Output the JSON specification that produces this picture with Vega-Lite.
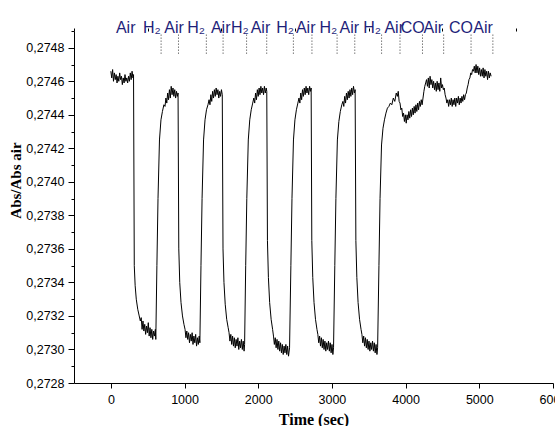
{
  "$schema": "https://vega.github.io/schema/vega-lite/v6.json",
  "width": 479,
  "height": 352,
  "autosize": {"type": "none"},
  "padding": {"left": 74, "top": 31, "right": 2, "bottom": 43},
  "background": "white",
  "config": {
    "view": {"stroke": null},
    "locale": {"number": {"decimal": ",", "thousands": ".", "grouping": [3], "currency": ["", ""]}},
    "axis": {
      "grid": false,
      "domainColor": "black",
      "tickColor": "black",
      "labelColor": "black",
      "titleColor": "black",
      "labelFont": "Liberation Sans",
      "labelFontSize": 12.5,
      "titleFont": "Liberation Serif",
      "titleFontWeight": "bold",
      "domainWidth": 1,
      "tickWidth": 1
    }
  },
  "datasets": {
    "curve": [
      {"t":0,"v":0.27466},{"t":12,"v":0.27462},{"t":24,"v":0.27467},{"t":36,"v":0.2746},{"t":48,"v":0.27465},{"t":60,"v":0.27461},{"t":72,"v":0.27464},{"t":84,"v":0.27459},{"t":96,"v":0.27463},{"t":108,"v":0.2746},{"t":120,"v":0.27465},{"t":132,"v":0.27461},{"t":144,"v":0.27463},{"t":156,"v":0.27458},{"t":168,"v":0.27462},{"t":180,"v":0.27459},{"t":192,"v":0.27464},{"t":204,"v":0.2746},{"t":216,"v":0.27462},{"t":228,"v":0.27459},{"t":240,"v":0.27463},{"t":252,"v":0.2746},{"t":264,"v":0.27465},{"t":276,"v":0.27461},{"t":288,"v":0.27466},{"t":300,"v":0.27462},{"t":308,"v":0.27464},
      {"t":318,"v":0.2735},{"t":330,"v":0.27338},{"t":345,"v":0.2733},{"t":365,"v":0.27324},{"t":385,"v":0.2732},{"t":400,"v":0.27317},{"t":412,"v":0.27319},{"t":424,"v":0.27312},{"t":436,"v":0.27317},{"t":448,"v":0.27311},{"t":460,"v":0.27315},{"t":472,"v":0.27309},{"t":484,"v":0.27314},{"t":496,"v":0.2731},{"t":508,"v":0.27316},{"t":520,"v":0.27308},{"t":532,"v":0.27313},{"t":544,"v":0.27307},{"t":556,"v":0.27312},{"t":568,"v":0.27306},{"t":580,"v":0.27311},{"t":592,"v":0.27308},{"t":604,"v":0.27312},{"t":610,"v":0.27306},
      {"t":625,"v":0.2735},{"t":640,"v":0.2739},{"t":660,"v":0.27425},{"t":680,"v":0.27437},{"t":700,"v":0.27442},{"t":720,"v":0.27446},{"t":735,"v":0.27445},{"t":747,"v":0.2745},{"t":759,"v":0.27447},{"t":771,"v":0.27453},{"t":783,"v":0.27449},{"t":795,"v":0.27455},{"t":807,"v":0.2745},{"t":819,"v":0.27457},{"t":831,"v":0.27452},{"t":843,"v":0.27456},{"t":855,"v":0.27451},{"t":867,"v":0.27455},{"t":879,"v":0.2745},{"t":891,"v":0.27454},{"t":903,"v":0.27451},{"t":912,"v":0.27453},
      {"t":922,"v":0.2736},{"t":935,"v":0.2734},{"t":952,"v":0.27328},{"t":972,"v":0.2732},{"t":992,"v":0.27315},{"t":1007,"v":0.27312},{"t":1019,"v":0.27307},{"t":1031,"v":0.27311},{"t":1043,"v":0.27306},{"t":1055,"v":0.2731},{"t":1067,"v":0.27304},{"t":1079,"v":0.27309},{"t":1091,"v":0.27305},{"t":1103,"v":0.2731},{"t":1115,"v":0.27303},{"t":1127,"v":0.27308},{"t":1139,"v":0.27304},{"t":1151,"v":0.27309},{"t":1163,"v":0.27302},{"t":1175,"v":0.27307},{"t":1187,"v":0.27303},{"t":1199,"v":0.27308},{"t":1208,"v":0.27304},
      {"t":1223,"v":0.2735},{"t":1238,"v":0.2739},{"t":1258,"v":0.27425},{"t":1278,"v":0.27437},{"t":1298,"v":0.27443},{"t":1318,"v":0.27446},{"t":1333,"v":0.27449},{"t":1345,"v":0.27446},{"t":1357,"v":0.27452},{"t":1369,"v":0.27448},{"t":1381,"v":0.27454},{"t":1393,"v":0.2745},{"t":1405,"v":0.27455},{"t":1417,"v":0.27451},{"t":1429,"v":0.27456},{"t":1441,"v":0.27452},{"t":1453,"v":0.27455},{"t":1465,"v":0.2745},{"t":1477,"v":0.27454},{"t":1489,"v":0.27451},{"t":1501,"v":0.27455},{"t":1512,"v":0.27452},
      {"t":1522,"v":0.2736},{"t":1535,"v":0.2734},{"t":1552,"v":0.27327},{"t":1572,"v":0.27318},{"t":1592,"v":0.27313},{"t":1604,"v":0.2731},{"t":1616,"v":0.27305},{"t":1628,"v":0.27309},{"t":1640,"v":0.27303},{"t":1652,"v":0.27308},{"t":1664,"v":0.27302},{"t":1676,"v":0.27307},{"t":1688,"v":0.27301},{"t":1700,"v":0.27306},{"t":1712,"v":0.27302},{"t":1724,"v":0.27307},{"t":1736,"v":0.273},{"t":1748,"v":0.27305},{"t":1760,"v":0.27301},{"t":1772,"v":0.27306},{"t":1784,"v":0.273},{"t":1796,"v":0.27305},{"t":1808,"v":0.27299},{"t":1815,"v":0.27303},
      {"t":1830,"v":0.2735},{"t":1845,"v":0.2739},{"t":1865,"v":0.27425},{"t":1885,"v":0.27437},{"t":1905,"v":0.27443},{"t":1925,"v":0.27447},{"t":1940,"v":0.2745},{"t":1952,"v":0.27447},{"t":1964,"v":0.27453},{"t":1976,"v":0.27449},{"t":1988,"v":0.27455},{"t":2000,"v":0.27451},{"t":2012,"v":0.27456},{"t":2024,"v":0.27452},{"t":2036,"v":0.27457},{"t":2048,"v":0.27453},{"t":2060,"v":0.27456},{"t":2072,"v":0.27452},{"t":2084,"v":0.27457},{"t":2096,"v":0.27453},{"t":2108,"v":0.27456},{"t":2116,"v":0.27454},
      {"t":2125,"v":0.27365},{"t":2138,"v":0.27343},{"t":2155,"v":0.27328},{"t":2175,"v":0.27318},{"t":2195,"v":0.27312},{"t":2207,"v":0.27308},{"t":2219,"v":0.27303},{"t":2231,"v":0.27307},{"t":2243,"v":0.27301},{"t":2255,"v":0.27306},{"t":2267,"v":0.273},{"t":2279,"v":0.27305},{"t":2291,"v":0.27299},{"t":2303,"v":0.27304},{"t":2315,"v":0.27298},{"t":2327,"v":0.27303},{"t":2339,"v":0.27297},{"t":2351,"v":0.27302},{"t":2363,"v":0.27298},{"t":2375,"v":0.27303},{"t":2387,"v":0.27297},{"t":2399,"v":0.27302},{"t":2411,"v":0.27296},{"t":2425,"v":0.27301},
      {"t":2443,"v":0.2735},{"t":2458,"v":0.2739},{"t":2478,"v":0.27425},{"t":2498,"v":0.27437},{"t":2518,"v":0.27443},{"t":2538,"v":0.27447},{"t":2553,"v":0.2745},{"t":2565,"v":0.27447},{"t":2577,"v":0.27453},{"t":2589,"v":0.27449},{"t":2601,"v":0.27455},{"t":2613,"v":0.27451},{"t":2625,"v":0.27456},{"t":2637,"v":0.27452},{"t":2649,"v":0.27457},{"t":2661,"v":0.27453},{"t":2673,"v":0.27456},{"t":2685,"v":0.27452},{"t":2697,"v":0.27457},{"t":2709,"v":0.27454},{"t":2718,"v":0.27456},
      {"t":2727,"v":0.27365},{"t":2740,"v":0.27343},{"t":2757,"v":0.27328},{"t":2777,"v":0.27318},{"t":2797,"v":0.27312},{"t":2809,"v":0.27309},{"t":2821,"v":0.27304},{"t":2833,"v":0.27308},{"t":2845,"v":0.27302},{"t":2857,"v":0.27307},{"t":2869,"v":0.27301},{"t":2881,"v":0.27306},{"t":2893,"v":0.273},{"t":2905,"v":0.27305},{"t":2917,"v":0.27299},{"t":2929,"v":0.27304},{"t":2941,"v":0.273},{"t":2953,"v":0.27305},{"t":2965,"v":0.27299},{"t":2977,"v":0.27304},{"t":2989,"v":0.27298},{"t":3001,"v":0.27303},{"t":3013,"v":0.27297},{"t":3022,"v":0.27301},
      {"t":3039,"v":0.2735},{"t":3054,"v":0.2739},{"t":3074,"v":0.27425},{"t":3094,"v":0.27436},{"t":3114,"v":0.27442},{"t":3134,"v":0.27446},{"t":3149,"v":0.27448},{"t":3161,"v":0.27445},{"t":3173,"v":0.27451},{"t":3185,"v":0.27447},{"t":3197,"v":0.27453},{"t":3209,"v":0.27449},{"t":3221,"v":0.27454},{"t":3233,"v":0.2745},{"t":3245,"v":0.27455},{"t":3257,"v":0.27451},{"t":3269,"v":0.27456},{"t":3281,"v":0.27452},{"t":3293,"v":0.27457},{"t":3305,"v":0.27453},{"t":3315,"v":0.27455},
      {"t":3325,"v":0.27365},{"t":3338,"v":0.27343},{"t":3355,"v":0.27328},{"t":3375,"v":0.27318},{"t":3395,"v":0.27312},{"t":3407,"v":0.27309},{"t":3419,"v":0.27304},{"t":3431,"v":0.27308},{"t":3443,"v":0.27302},{"t":3455,"v":0.27307},{"t":3467,"v":0.27301},{"t":3479,"v":0.27306},{"t":3491,"v":0.273},{"t":3503,"v":0.27305},{"t":3515,"v":0.27299},{"t":3527,"v":0.27304},{"t":3539,"v":0.273},{"t":3551,"v":0.27305},{"t":3563,"v":0.27299},{"t":3575,"v":0.27304},{"t":3587,"v":0.27298},{"t":3599,"v":0.27303},{"t":3611,"v":0.27297},{"t":3620,"v":0.27301},
      {"t":3638,"v":0.2735},{"t":3653,"v":0.2739},{"t":3673,"v":0.27422},{"t":3693,"v":0.27432},{"t":3713,"v":0.27437},{"t":3733,"v":0.27441},{"t":3753,"v":0.27444},{"t":3773,"v":0.27445},{"t":3793,"v":0.27447},{"t":3813,"v":0.27446},{"t":3833,"v":0.2745},{"t":3853,"v":0.27448},{"t":3873,"v":0.27453},{"t":3888,"v":0.27451},{"t":3900,"v":0.27454},{"t":3912,"v":0.27448},{"t":3924,"v":0.27447},{"t":3936,"v":0.27443},{"t":3948,"v":0.27444},{"t":3960,"v":0.27439},{"t":3972,"v":0.27441},{"t":3984,"v":0.27436},{"t":3996,"v":0.2744},{"t":4008,"v":0.27435},{"t":4020,"v":0.2744},{"t":4032,"v":0.27437},{"t":4044,"v":0.27442},{"t":4056,"v":0.27438},{"t":4068,"v":0.27443},{"t":4080,"v":0.27439},{"t":4092,"v":0.27444},{"t":4104,"v":0.2744},{"t":4116,"v":0.27445},{"t":4128,"v":0.27441},{"t":4140,"v":0.27446},{"t":4152,"v":0.27442},{"t":4164,"v":0.27447},{"t":4176,"v":0.27443},{"t":4188,"v":0.27448},{"t":4200,"v":0.27445},{"t":4212,"v":0.27449},{"t":4224,"v":0.27446},
      {"t":4236,"v":0.2745},{"t":4248,"v":0.27454},{"t":4260,"v":0.27457},{"t":4272,"v":0.27459},{"t":4284,"v":0.27461},{"t":4296,"v":0.27457},{"t":4308,"v":0.27462},{"t":4320,"v":0.27456},{"t":4332,"v":0.27463},{"t":4344,"v":0.27458},{"t":4356,"v":0.27461},{"t":4368,"v":0.27456},{"t":4380,"v":0.2746},{"t":4392,"v":0.27455},{"t":4404,"v":0.27459},{"t":4416,"v":0.27454},{"t":4428,"v":0.2746},{"t":4440,"v":0.27455},{"t":4452,"v":0.27459},{"t":4464,"v":0.27454},{"t":4476,"v":0.27462},{"t":4488,"v":0.27456},{"t":4500,"v":0.27458},{"t":4512,"v":0.27455},{"t":4524,"v":0.27456},
      {"t":4536,"v":0.27452},{"t":4548,"v":0.2745},{"t":4560,"v":0.27447},{"t":4572,"v":0.27449},{"t":4584,"v":0.27445},{"t":4596,"v":0.27449},{"t":4608,"v":0.27446},{"t":4620,"v":0.2745},{"t":4632,"v":0.27445},{"t":4644,"v":0.27449},{"t":4656,"v":0.27446},{"t":4668,"v":0.2745},{"t":4680,"v":0.27445},{"t":4692,"v":0.2745},{"t":4704,"v":0.27447},{"t":4716,"v":0.27451},{"t":4728,"v":0.27446},{"t":4740,"v":0.2745},{"t":4752,"v":0.27447},{"t":4764,"v":0.27451},{"t":4776,"v":0.27448},{"t":4788,"v":0.27452},{"t":4800,"v":0.27449},{"t":4812,"v":0.27452},
      {"t":4824,"v":0.27453},{"t":4836,"v":0.27456},{"t":4848,"v":0.27458},{"t":4860,"v":0.27461},{"t":4872,"v":0.27462},{"t":4884,"v":0.27465},{"t":4896,"v":0.27464},{"t":4908,"v":0.27467},{"t":4920,"v":0.27466},{"t":4932,"v":0.27469},{"t":4944,"v":0.27465},{"t":4956,"v":0.2747},{"t":4968,"v":0.27465},{"t":4980,"v":0.27469},{"t":4992,"v":0.27464},{"t":5004,"v":0.27468},{"t":5016,"v":0.27463},{"t":5028,"v":0.27467},{"t":5040,"v":0.27463},{"t":5052,"v":0.27468},{"t":5064,"v":0.27462},{"t":5076,"v":0.27467},{"t":5088,"v":0.27463},{"t":5100,"v":0.27466},{"t":5112,"v":0.27461},{"t":5124,"v":0.27466},{"t":5136,"v":0.27462},{"t":5148,"v":0.27465},{"t":5160,"v":0.27463}
    ],
    "gases": [
      {"t":202,"g":"Air"},{"t":557,"g":"H₂"},{"t":857,"g":"Air"},{"t":1157,"g":"H₂"},{"t":1491,"g":"Air"},{"t":1750,"g":"H₂"},{"t":2030,"g":"Air"},{"t":2364,"g":"H₂"},{"t":2644,"g":"Air"},{"t":2951,"g":"H₂"},{"t":3237,"g":"Air"},{"t":3544,"g":"H₂"},{"t":3845,"g":"Air"},{"t":4097,"g":"CO"},{"t":4377,"g":"Air"},{"t":4752,"g":"CO"},{"t":5052,"g":"Air"}
    ],
    "switches": [
      {"t":682},{"t":918},{"t":1296},{"t":1523},{"t":1842},{"t":2115},{"t":2477},{"t":2729},{"t":3070},{"t":3310},{"t":3674},{"t":3924},{"t":4229},{"t":4516},{"t":4888},{"t":5184}
    ]
  },
  "layer": [
    {
      "data": {"name": "curve"},
      "mark": {"type": "line", "color": "black", "strokeWidth": 1},
      "encoding": {
        "x": {
          "field": "t", "type": "quantitative",
          "scale": {"domain": [-500, 6000], "nice": false, "zero": false},
          "axis": {"values": [0,1000,2000,3000,4000,5000,6000], "format": "d", "tickSize": 5, "labelPadding": 5, "labelFlush": false, "labelOverlap": false, "title": "Time (sec)", "titleFontSize": 16, "titlePadding": 6}
        },
        "y": {
          "field": "v", "type": "quantitative",
          "scale": {"domain": [0.2728, 0.2749], "nice": false, "zero": false},
          "axis": {"values": [0.2728,0.273,0.2732,0.2734,0.2736,0.2738,0.274,0.2742,0.2744,0.2746,0.2748], "format": ".4f", "tickSize": 6, "labelPadding": 4, "labelFlush": false, "labelOverlap": false, "title": "Abs/Abs air", "titleFontSize": 15, "titleX": -51, "titleY": 149}
        }
      }
    },
    {
      "data": {"name": "switches"},
      "mark": {"type": "rule", "strokeDash": [1, 2], "color": "#333333", "strokeWidth": 1},
      "encoding": {
        "x": {
          "field": "t", "type": "quantitative",
          "axis": {"values": [-500,500,1500,2500,3500,4500,5500], "labels": false, "tickSize": 3, "domain": false, "title": null}
        },
        "y": {
          "datum": 0.274765, "type": "quantitative",
          "axis": {"orient": "left", "values": [0.2729,0.2731,0.2733,0.2735,0.2737,0.2739,0.2741,0.2743,0.2745,0.2747,0.2749], "labels": false, "tickSize": 3, "domain": false, "title": null}
        },
        "y2": {"datum": 0.27489}
      }
    },
    {
      "data": {"name": "gases"},
      "mark": {"type": "text", "font": "Liberation Sans", "fontSize": 16, "color": "#1f1f7a", "baseline": "alphabetic", "align": "center"},
      "encoding": {
        "x": {"field": "t", "type": "quantitative", "axis": null},
        "y": {"datum": 0.27489, "type": "quantitative", "axis": null},
        "text": {"field": "g"}
      }
    }
  ],
  "resolve": {"axis": {"x": "independent", "y": "independent"}}
}
